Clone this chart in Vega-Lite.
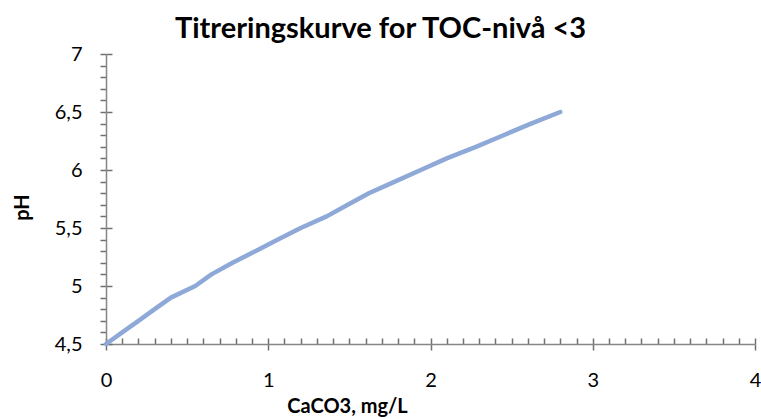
{
  "$schema": "https://vega.github.io/schema/vega-lite/v6.json",
  "width": 649,
  "height": 290,
  "autosize": {"type": "none"},
  "padding": {"left": 106, "top": 54, "right": 6, "bottom": 75},
  "background": "white",
  "config": {
    "view": {"stroke": null},
    "font": "Lato"
  },
  "title": {"text": "Titreringskurve for TOC-nivå <3", "font": "Lato", "fontSize": 29, "fontWeight": "bold", "color": "#000000", "anchor": "middle", "dx": -50, "offset": 0},
  "data": {"values": [
    {"caco3": 0.0, "ph": 4.5},
    {"caco3": 0.1, "ph": 4.6},
    {"caco3": 0.2, "ph": 4.7},
    {"caco3": 0.3, "ph": 4.8},
    {"caco3": 0.4, "ph": 4.9},
    {"caco3": 0.55, "ph": 5.0},
    {"caco3": 0.65, "ph": 5.1},
    {"caco3": 0.78, "ph": 5.2},
    {"caco3": 0.92, "ph": 5.3},
    {"caco3": 1.06, "ph": 5.4},
    {"caco3": 1.2, "ph": 5.5},
    {"caco3": 1.36, "ph": 5.6},
    {"caco3": 1.49, "ph": 5.7},
    {"caco3": 1.62, "ph": 5.8},
    {"caco3": 1.78, "ph": 5.9},
    {"caco3": 1.94, "ph": 6.0},
    {"caco3": 2.1, "ph": 6.1},
    {"caco3": 2.28, "ph": 6.2},
    {"caco3": 2.45, "ph": 6.3},
    {"caco3": 2.62, "ph": 6.4},
    {"caco3": 2.8, "ph": 6.5}
  ]},
  "layer": [
    {
      "mark": {"type": "line", "strokeOpacity": 0},
      "encoding": {
        "x": {"field": "caco3", "type": "quantitative", "scale": {"domain": [0, 4], "nice": false, "zero": false},
          "axis": {"orient": "bottom", "values": [0,0.1,0.2,0.3,0.4,0.5,0.6,0.7,0.8,0.9,1,1.1,1.2,1.3,1.4,1.5,1.6,1.7,1.8,1.9,2,2.1,2.2,2.3,2.4,2.5,2.6,2.7,2.8,2.9,3,3.1,3.2,3.3,3.4,3.5,3.6,3.7,3.8,3.9,4], "tickColor": "#707070", "tickWidth": 1.5, "tickSize": -6, "labels": false, "domain": false, "grid": false, "title": null}},
        "y": {"field": "ph", "type": "quantitative", "scale": {"domain": [4.5, 7], "nice": false, "zero": false},
          "axis": {"orient": "left", "values": [4.5,4.6,4.7,4.8,4.9,5,5.1,5.2,5.3,5.4,5.5,5.6,5.7,5.8,5.9,6,6.1,6.2,6.3,6.4,6.5,6.6,6.7,6.8,6.9,7], "tickColor": "#707070", "tickWidth": 1.5, "tickSize": 6, "labels": false, "domain": false, "grid": false, "title": null}}
      }
    },
    {
      "mark": {"type": "line", "color": "#8EA9D8", "strokeWidth": 4.5, "strokeCap": "round", "strokeJoin": "round"},
      "encoding": {
        "x": {"field": "caco3", "type": "quantitative", "scale": {"domain": [0, 4], "nice": false, "zero": false},
          "axis": {"orient": "bottom", "values": [0, 1, 2, 3, 4], "grid": false, "tickColor": "#707070", "tickWidth": 1.5, "domainColor": "#868686", "domainWidth": 1.5, "tickSize": 6, "labelColor": "#000000", "labelFont": "Lato", "labelFontSize": 20, "labelPadding": 20, "labelFlush": false,
            "title": "CaCO3, mg/L", "titleColor": "#000000", "titleFont": "Lato", "titleFontSize": 20, "titleFontWeight": "bold", "titleAnchor": "middle", "titleX": 241, "titleY": 68, "titleBaseline": "alphabetic"}},
        "y": {"field": "ph", "type": "quantitative", "scale": {"domain": [4.5, 7], "nice": false, "zero": false},
          "axis": {"orient": "left", "values": [4.5, 5, 5.5, 6, 6.5, 7], "grid": false, "tickColor": "#707070", "tickWidth": 1.5, "domainColor": "#868686", "domainWidth": 1.5, "tickSize": -6, "labelColor": "#000000", "labelFont": "Lato", "labelFontSize": 20, "labelPadding": 30, "labelFlush": false, "labelExpr": "replace(format(datum.value, '.1~f'), '.', ',')",
            "title": "pH", "titleColor": "#000000", "titleFont": "Lato", "titleFontSize": 20, "titleFontWeight": "bold", "titleAngle": -90, "titleX": -78, "titleY": 153, "titleBaseline": "alphabetic", "titleAnchor": "middle"}}
      }
    }
  ],
  "resolve": {"axis": {"x": "independent", "y": "independent"}}
}
